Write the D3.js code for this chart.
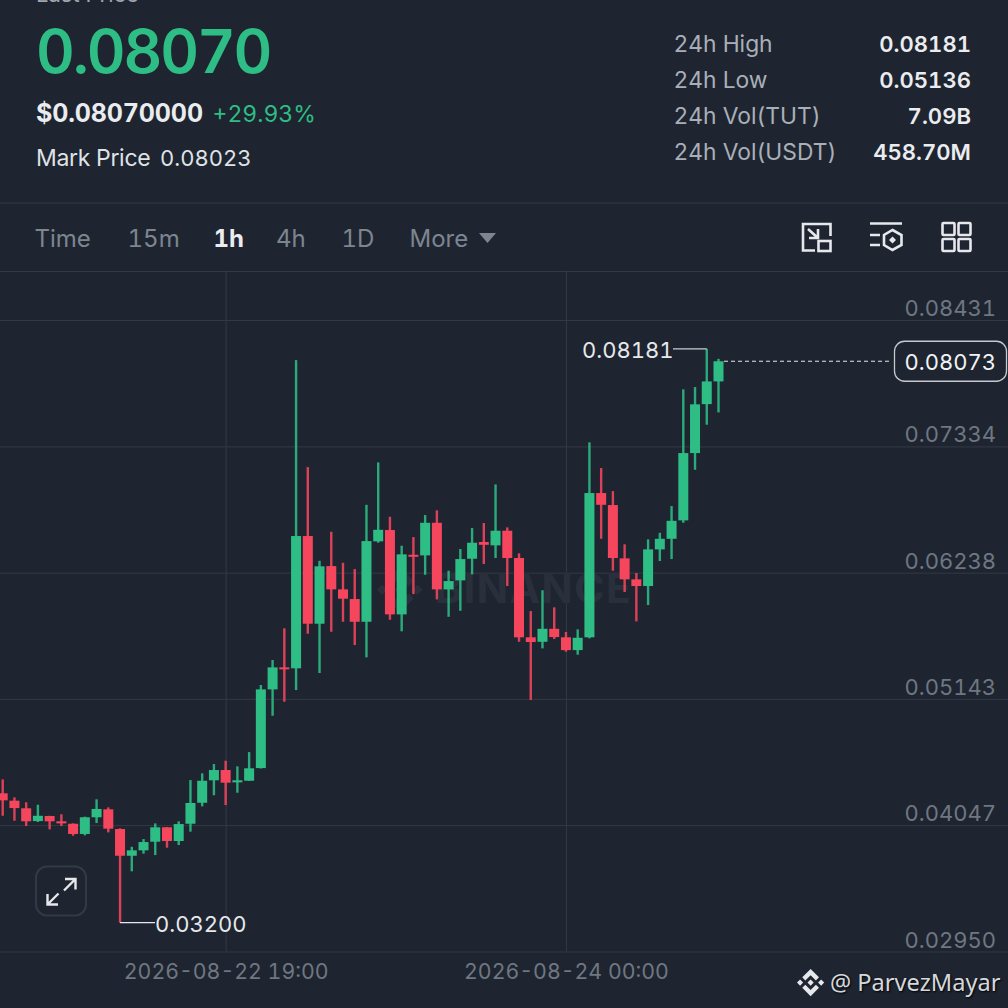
<!DOCTYPE html>
<html lang="en">

<head>
    <meta charset="UTF-8">
    <title>TUTUSDT 1h</title>
    <style>
        html, body { margin: 0; padding: 0; background: #1e2530; }
        svg { display: block; font-family: "Inter", sans-serif; font-variant-numeric: tabular-nums; }
    </style>
    <script src="https://cdn.jsdelivr.net/npm/d3@7"></script>
</head>

<body>
    <svg id="chart" width="1008" height="1008"></svg>

    <script>
        // candles, one per hour, oldest first
        const opens = [0.04323, 0.04259, 0.04193, 0.04082, 0.04126, 0.04080, 0.04059, 0.03970, 0.04115, 0.04184,
            0.04013, 0.03781, 0.03828, 0.03903, 0.04028, 0.03909, 0.04059, 0.04241, 0.04436, 0.04525,
            0.04418, 0.04432, 0.04542, 0.05225, 0.05416, 0.05408, 0.06556, 0.05795, 0.06295, 0.06093,
            0.06009, 0.05812, 0.06510, 0.06608, 0.05876, 0.06393, 0.06388, 0.06671, 0.06093, 0.06171,
            0.06359, 0.06504, 0.06475, 0.06602, 0.06365, 0.05677, 0.05638, 0.05751, 0.05677, 0.05566,
            0.05677, 0.06929, 0.06825, 0.06362, 0.06180, 0.06122, 0.06440, 0.06532, 0.06692, 0.07276,
            0.07701, 0.07898];
        const highs = [0.04444, 0.04288, 0.04245, 0.04224, 0.04128, 0.04141, 0.04062, 0.04120, 0.04271, 0.04201,
            0.04019, 0.03859, 0.03926, 0.04062, 0.04030, 0.04080, 0.04438, 0.04496, 0.04577, 0.04606,
            0.04557, 0.04681, 0.05263, 0.05480, 0.05755, 0.08083, 0.07154, 0.06341, 0.06593, 0.06324,
            0.06269, 0.06827, 0.07195, 0.06723, 0.06472, 0.06547, 0.06738, 0.06779, 0.06255, 0.06443,
            0.06625, 0.06669, 0.07004, 0.06631, 0.06406, 0.05905, 0.06085, 0.05937, 0.05723, 0.05746,
            0.07369, 0.07146, 0.06946, 0.06484, 0.06235, 0.06527, 0.06584, 0.06816, 0.07829, 0.07849,
            0.08181, 0.08094];
        const lows = [0.04128, 0.04085, 0.04039, 0.04074, 0.04010, 0.04039, 0.03955, 0.03958, 0.04065, 0.03984,
            0.03200, 0.03646, 0.03799, 0.03787, 0.03851, 0.03874, 0.03990, 0.04210, 0.04306, 0.04221,
            0.04328, 0.04432, 0.04538, 0.04996, 0.05118, 0.05219, 0.05708, 0.05367, 0.05725, 0.05812,
            0.05610, 0.05503, 0.06498, 0.05829, 0.05729, 0.06052, 0.06220, 0.06006, 0.05855, 0.05907,
            0.06223, 0.06313, 0.06365, 0.06122, 0.05638, 0.05133, 0.05581, 0.05662, 0.05552, 0.05526,
            0.05668, 0.06532, 0.06255, 0.06070, 0.05815, 0.05957, 0.06339, 0.06356, 0.06671, 0.07131,
            0.07522, 0.07629];
        const closes = [0.04262, 0.04195, 0.04080, 0.04128, 0.04080, 0.04062, 0.03970, 0.04115, 0.04187, 0.04016,
            0.03781, 0.03828, 0.03900, 0.04028, 0.03909, 0.04056, 0.04239, 0.04432, 0.04525, 0.04415,
            0.04436, 0.04540, 0.05225, 0.05416, 0.05399, 0.06556, 0.05795, 0.06293, 0.06093, 0.06012,
            0.05812, 0.06512, 0.06610, 0.05876, 0.06397, 0.06376, 0.06671, 0.06093, 0.06165, 0.06356,
            0.06498, 0.06480, 0.06602, 0.06365, 0.05677, 0.05636, 0.05751, 0.05679, 0.05566, 0.05673,
            0.06929, 0.06827, 0.06365, 0.06180, 0.06122, 0.06440, 0.06532, 0.06688, 0.07276, 0.07699,
            0.07898, 0.08073];

        const priceTicks = [0.08431, 0.07334, 0.06238, 0.05143, 0.04047, 0.02950];
        const timeTicks = ["2026-08-22 19:00", "2026-08-24 00:00"];
        const firstCandle = "2026-08-22 00:00";

        const statLabels = ["24h High", "24h Low", "24h Vol(TUT)", "24h Vol(USDT)"];
        const statValues = ["0.08181", "0.05136", "7.09B", "458.70M"];
        const tabLabels = ["Time", "15m", "1h", "4h", "1D", "More"];
        const tabX = [34.5, 127.5, 213.5, 276, 341.5, 409.5];

        const GREEN = "#2ebd85", RED = "#f6465d", GRID = "#333a46";
        const LOGO = "M38.73 53.2l24.59-24.58 24.6 24.6 14.3-14.31L63.32 0 24.42 38.9zM0 63.31l14.3-14.31 14.31 14.31-14.31 14.3zM38.73 73.41l24.59 24.59 24.6-24.6 14.31 14.29-38.9 38.91-38.91-38.88v-.02zM98 63.31l14.3-14.31 14.31 14.3-14.31 14.32zM77.83 63.3L63.32 48.78 52.59 59.51l-1.24 1.23-2.54 2.54 14.51 14.5 14.51-14.47z";

        const parseTime = d3.timeParse("%Y-%m-%d %H:%M");
        const formatTime = d3.timeFormat("%Y-%m-%d %H:%M");
        const start = parseTime(firstCandle);
        const times = opens.map((d, i) => d3.timeHour.offset(start, i));

        const svg = d3.select("#chart");

        const x = d3.scaleTime()
            .domain([times[0], times[times.length - 1]])
            .range([2.7, 718.5]);
        const y = d3.scaleLinear()
            .domain([priceTicks[5], priceTicks[0]])
            .range([951.5, 320]);

        function addText(txt, px, py, size, fill, weight, anchor) {
            return svg.append("text")
                .attr("x", px)
                .attr("y", py)
                .attr("font-size", size)
                .attr("fill", fill)
                .attr("font-weight", weight || 400)
                .attr("text-anchor", anchor || "start")
                .text(txt);
        }

        // header
        addText("Last Price", 36, 2, 22, "#a0a7b1");
        addText("0.08070", 36, 73, 60, GREEN, 600).attr("letter-spacing", -2.1);
        addText("$0.08070000", 36, 122, 25, "#eaecef", 700).attr("letter-spacing", -0.15);
        addText("+29.93%", 212.5, 122, 23, GREEN);
        addText("Mark Price", 36, 166, 23, "#dfe2e6").attr("letter-spacing", -0.3);
        addText("0.08023", 160, 166, 22, "#dfe2e6");

        statLabels.forEach((d, i) => {
            addText(d, 673.5, 52 + i * 36, 22.8, "#a9afb8");
            addText(statValues[i], 971, 52 + i * 36, 22.1, "#eaecef", 600, "end");
        });

        // separators and tabs
        svg.append("line").attr("x1", 0).attr("x2", 1008).attr("y1", 203).attr("y2", 203).attr("stroke", GRID);
        svg.append("line").attr("x1", 0).attr("x2", 1008).attr("y1", 271.5).attr("y2", 271.5).attr("stroke", GRID);

        tabLabels.forEach((d, i) => {
            const on = d === "1h";
            addText(d, tabX[i], 247, 24, on ? "#eaecef" : "#7d8590", on ? 700 : 400);
        });
        svg.append("path").attr("d", "M479 233H496L487.5 243Z").attr("fill", "#7d8590");

        // toolbar icons
        const icons = svg.append("g").attr("fill", "none").attr("stroke", "#e6e8eb").attr("stroke-width", 2.6);
        icons.append("path").attr("d", "M815 250.5H803V224H830.5V236");
        icons.append("rect").attr("x", 818.5).attr("y", 241).attr("width", 12).attr("height", 10);
        icons.append("path").attr("d", "M808 229L818 238M809 238H818V229");
        icons.append("path").attr("d", "M870 223.5H902M870 235H880M870 245H880");
        icons.append("path").attr("d", "M892.5 230L901.5 235V245L892.5 250L884 245V235Z");
        svg.append("path").attr("d", "M892.5 236.5L896 240L892.5 243.5L889 240Z").attr("fill", "#e6e8eb");
        [[942.5, 223], [958.5, 223], [942.5, 239], [958.5, 239]].forEach(p => {
            icons.append("rect").attr("x", p[0]).attr("y", p[1]).attr("width", 12).attr("height", 12).attr("rx", 1);
        });

        // grid and axes
        const yAxis = d3.axisRight(y)
            .tickValues(priceTicks)
            .tickSize(1008)
            .tickFormat(d3.format(".5f"));
        const yG = svg.append("g").call(yAxis);
        yG.select(".domain").remove();
        yG.selectAll("line").attr("stroke", GRID);
        yG.selectAll("text")
            .attr("x", 996).attr("dy", "-4.5")
            .attr("text-anchor", "end")
            .attr("font-family", "Inter, sans-serif")
            .attr("font-size", 22)
            .attr("fill", "#6f7782");

        const xAxis = d3.axisBottom(x)
            .tickValues(timeTicks.map(parseTime))
            .tickSize(-680)
            .tickPadding(0)
            .tickFormat(formatTime);
        const xG = svg.append("g").attr("transform", "translate(0,951.5)").call(xAxis);
        xG.select(".domain").remove();
        xG.selectAll("line").attr("stroke", GRID);
        xG.selectAll("text")
            .attr("y", 27).attr("dy", 0)
            .attr("font-family", "Inter, sans-serif")
            .attr("font-size", 21.3)
            .attr("fill", "#6f7782");

        // watermark
        svg.append("path").attr("d", LOGO).attr("fill", "#29303c")
            .attr("transform", "translate(377,567) scale(0.36)");
        addText("BINANCE", 435, 603, 41, "#29303c", 700).attr("letter-spacing", 1.5);

        // candles
        const candles = svg.append("g").selectAll("g")
            .data(times)
            .enter()
            .append("g")
            .attr("fill", (d, i) => closes[i] >= opens[i] ? GREEN : RED);

        candles.append("rect")
            .attr("x", d => x(d) - 1.2)
            .attr("width", 2.4)
            .attr("y", (d, i) => y(highs[i]))
            .attr("height", (d, i) => y(lows[i]) - y(highs[i]))
            .attr("opacity", 0.88);

        candles.append("rect")
            .attr("x", d => x(d) - 5)
            .attr("width", 10)
            .attr("y", (d, i) => y(Math.max(opens[i], closes[i])))
            .attr("height", (d, i) => Math.max(1.5, Math.abs(y(opens[i]) - y(closes[i]))));

        // high and low markers
        const hiIdx = d3.maxIndex(highs), loIdx = d3.minIndex(lows);
        svg.append("line")
            .attr("x1", x(times[hiIdx])).attr("x2", 673)
            .attr("y1", y(highs[hiIdx])).attr("y2", y(highs[hiIdx]))
            .attr("stroke", "#c9cdd2").attr("stroke-width", 1.3);
        addText(d3.format(".5f")(highs[hiIdx]), 582, y(highs[hiIdx]) + 9, 22, "#e6e8eb");

        svg.append("line")
            .attr("x1", x(times[loIdx])).attr("x2", 155)
            .attr("y1", y(lows[loIdx])).attr("y2", y(lows[loIdx]))
            .attr("stroke", "#e6e8eb").attr("stroke-width", 1.3);
        addText(d3.format(".5f")(lows[loIdx]), 155, y(lows[loIdx]) + 9, 22, "#e6e8eb");

        // last price tag
        const last = closes[closes.length - 1];
        svg.append("line")
            .attr("x1", 724).attr("x2", 892)
            .attr("y1", y(last)).attr("y2", y(last))
            .attr("stroke", "#e6e8eb").attr("stroke-dasharray", "4 3");
        svg.append("rect")
            .attr("x", 894.5).attr("y", y(last) - 20)
            .attr("width", 112).attr("height", 40).attr("rx", 10)
            .attr("fill", "#1e2530").attr("stroke", "#c5c9cf").attr("stroke-width", 1.3);
        addText(d3.format(".5f")(last), 996, y(last) + 9, 22, "#f2f3f5", 400, "end");

        // expand button
        svg.append("rect")
            .attr("x", 36).attr("y", 866.5).attr("width", 50).attr("height", 49).attr("rx", 11)
            .attr("fill", "none").attr("stroke", GRID).attr("stroke-width", 2);
        svg.append("path")
            .attr("d", "M65 879H75.5V889.5M75.5 879L64 890.5M47.5 894V904.5H58M47.5 904.5L58.5 893.5")
            .attr("fill", "none").attr("stroke", "#e6e8eb").attr("stroke-width", 2.4);

        // author mark
        svg.append("path").attr("d", LOGO).attr("fill", "#e6e8eb")
            .attr("transform", "translate(797,969) scale(0.215)");
        addText("@ ParvezMayar", 830, 991, 23.6, "#d5d8dc")
            .attr("font-family", "Noto Sans, sans-serif")
            .style("text-shadow", "1px 1px 2px #000");
    </script>

</body>

</html>
